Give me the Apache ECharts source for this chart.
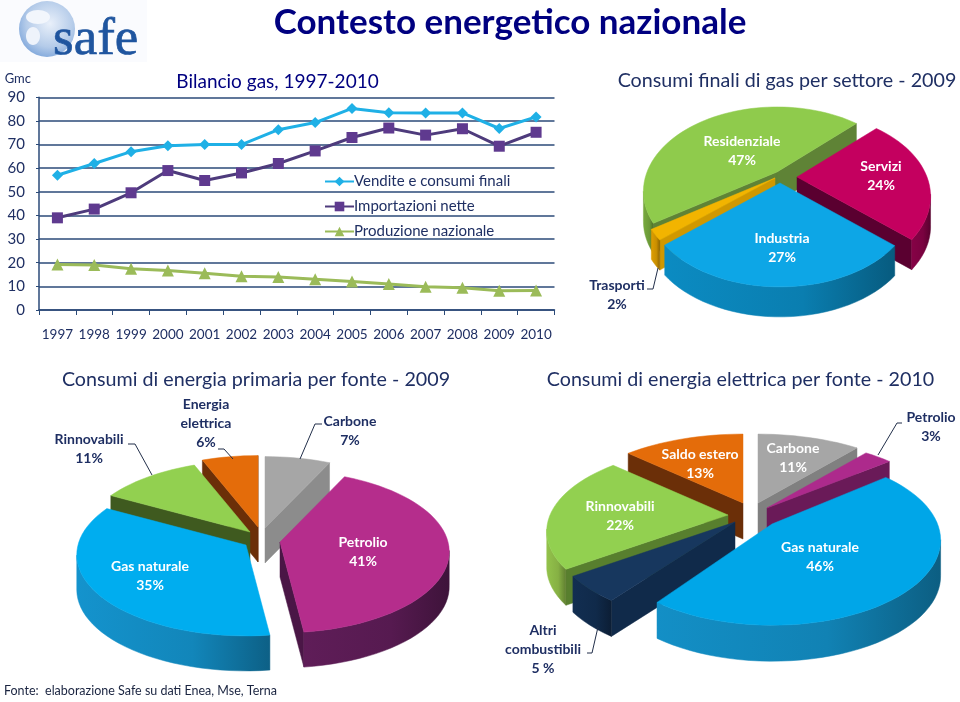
<!DOCTYPE html>
<html><head><meta charset="utf-8">
<style>html,body{margin:0;padding:0;background:#fff}#c{width:960px;height:702px}</style>
<script src="https://cdn.jsdelivr.net/npm/echarts@6/dist/echarts.min.js"></script>
</head><body><div id="c"></div>
<script>
// ---------- data ----------
const years = ['1997','1998','1999','2000','2001','2002','2003','2004','2005','2006','2007','2008','2009','2010'];
const vendite = [57,62,67,69.5,70,70,76.3,79.3,85.3,83.5,83.4,83.4,76.8,81.7];
const importazioni = [39,42.7,49.6,59,54.8,58,62,67.3,73,77,74,76.7,69.3,75.2];
const produzione = [19.3,19,17.5,16.7,15.6,14.3,14,13,12.1,11,9.8,9.4,8.1,8.3];

const settoreNames = ['Residenziale','Servizi','Industria','Trasporti'];
const settoreValues = [47,24,27,2];
const primariaNames = ['Carbone','Petrolio','Gas naturale','Rinnovabili','Energia\nelettrica'];
const primariaValues = [7,41,35,11,6];
const elettricaNames = ['Carbone','Petrolio','Gas naturale','Altri\ncombustibili','Rinnovabili','Saldo estero'];
const elettricaValues = [11,3,46,5,22,13];

// ---------- style / layout ----------
const FONT = 'Lato, "Open Sans", sans-serif';
const NAVY = '#1f2f63', TITLE = '#000080';
const pies = [
 { names:settoreNames, values:settoreValues, start:-124, p:.23, rx:130, ry:80, depth:30,
   tips:[[777,172],[797,177],[780,183],[775,178]], xScale:[1,1,1,1],
   top:['#8fcb4c','#c4005f','#0da6e6','#f2b400'], wall:['#6c9a38','#7a0240','#0a7eb0','#c98f00'], cut:['#5f8336','#5a0030','#0a6f9e','#d09800'],
   labels:[[742,151],[881,176],[782,248],[617,295]], inside:[1,1,1,0], suffix:['%','%','%','%'],
   leaders:[[[647,289],[653,289],[658,268]]] },
 { names:primariaNames, values:primariaValues, start:0, p:.12, rx:168, ry:80, depth:35,
   tips:[[265,528],[280,542],[246,545],[250,532],[258,527]], xScale:[1,1,1,1,1],
   top:['#a6a6a6','#b52d8c','#00adef','#92d050','#e46c0a'], wall:['#8c8c8c','#561a50','#1286ba','#3f5a1f','#6b2f08'], cut:['#8c8c8c','#4a1646','#0e6f9c','#3f5a1f','#6b2f08'],
   labels:[[350,431],[363,552],[150,576],[89,449],[206,423]], inside:[0,1,1,0,0], suffix:['%','%','%','%','%'],
   leaders:[[[322,424],[315,424],[300,459]],[[128,444],[135,444],[152,475]],[[218,449],[224,449],[233,459]]] },
 { names:elettricaNames, values:elettricaValues, start:0, p:.19, rx:178, ry:82, depth:36,
   tips:[[758,503],[767,508],[772,524],[735,522],[728,515],[743,503]], xScale:[1,1,.93,1,1,1],
   top:['#a6a6a6','#ad2a8c','#00a6e8','#17375e','#92d050','#e46c0a'], wall:['#808080','#6a1a58','#1182b4','#102a4a','#86b044','#6b2f08'], cut:['#808080','#6a1a58','#0c668f','#102a4a','#587f2e','#6b2f08'],
   labels:[[793,458],[931,427],[820,557],[543,649],[620,516],[700,464]], inside:[1,0,1,0,1,1], suffix:['%','%','%',' %','%','%'],
   leaders:[[[902,423],[897,423],[878,455]],[[587,653],[592,653],[598,627]]] }
];

// ---------- tilted, extruded pie drawn from the values ----------
function shade(hex, k){
  const n = parseInt(hex.slice(1),16);
  const f = v => Math.max(0,Math.min(255,Math.round(v*k)));
  return 'rgb('+f(n>>16)+','+f((n>>8)&255)+','+f(n&255)+')';
}
function project(cfg, t, sx){
  const a = t*Math.PI/180, X = Math.sin(a), Y = -Math.cos(a), s = 1/(1-cfg.p*Y);
  return [cfg.rx*sx*X*s, cfg.ry*Y*s];
}
function sliceOutline(cfg, i){
  const total = cfg.values.reduce((a,b)=>a+b,0);
  let t0 = cfg.start;
  for(let k=0;k<i;k++) t0 += cfg.values[k]/total*360;
  const t1 = t0 + cfg.values[i]/total*360;
  const tip = cfg.tips[i], arc = [];
  const steps = Math.max(4,Math.ceil((t1-t0)/3));
  for(let k=0;k<=steps;k++){
    const q = project(cfg, t0+(t1-t0)*k/steps, cfg.xScale[i]);
    arc.push([tip[0]+q[0], tip[1]+q[1]]);
  }
  return {tip, arc};
}
function renderSlice(cfg){
  const sy = cfg.values.map((_,i)=>{const o=sliceOutline(cfg,i);
     const m=o.arc[Math.floor(o.arc.length/2)];return (m[1]+o.tip[1])/2;});
  const rank = sy.map(y=>sy.filter(v=>v<y).length);
  return function(params, api){
    const i = params.dataIndex, value = api.value(0);
    const o = sliceOutline(cfg,i), pts=[o.tip,...o.arc], kids=[], z=rank[i]*2+2, d=cfg.depth;
    const poly = (list, fill, zz) => kids.push({type:'polygon',z2:zz,silent:true,shape:{points:list},style:{fill,stroke:fill,lineWidth:.5}});
    const wallQuad = (a,b) => [a,b,[b[0],b[1]+d],[a[0],a[1]+d]];
    // cut faces
    if(o.arc[0][0]-o.tip[0] < 0) poly(wallQuad(o.tip,o.arc[0]), cfg.cut[i], z);
    const last=o.arc[o.arc.length-1];
    if(o.tip[0]-last[0] < 0) poly(wallQuad(last,o.tip), cfg.cut[i], z);
    // outer wall: contiguous visible arc edges, as one shape with a horizontal gradient
    let run=[];
    const flush=()=>{
      if(run.length>1){
        const xs=run.map(p=>p[0]), x0=Math.min(...xs), x1=Math.max(...xs);
        const shape=[...run,...run.slice().reverse().map(p=>[p[0],p[1]+d])];
        poly(shape,{type:'linear',x:x0,y:0,x2:x1,y2:0,global:true,colorStops:[
          {offset:0,color:shade(cfg.wall[i],1.1)},{offset:.6,color:cfg.wall[i]},{offset:1,color:shade(cfg.wall[i],.72)}]},z);
      }
      run=[];
    };
    for(let e=0;e<o.arc.length-1;e++){
      const a=o.arc[e], b=o.arc[e+1];
      if(b[0]-a[0] < 0){ if(!run.length) run.push(a); run.push(b); } else flush();
    }
    flush();
    poly(pts, cfg.top[i], z+1);
    const lab = cfg.labels[i];
    kids.push({type:'text',z2:100,silent:true,style:{
      text:cfg.names[i]+'\n'+value+cfg.suffix[i], x:lab[0], y:lab[1], textAlign:'center', textVerticalAlign:'middle',
      fill:cfg.inside[i]?'#fff':NAVY, font:'bold 14px '+FONT, lineHeight:19}});
    return {type:'group',children:kids};
  };
}

const pieSeries = pies.map(cfg=>({
  type:'custom', coordinateSystem:'none', animation:false, silent:true,
  renderItem:renderSlice(cfg),
  data:cfg.names.map((n,i)=>({name:n.replace('\n',' '),value:[cfg.values[i]]}))
}));

const leaderGraphics = pies.flatMap(cfg=>cfg.leaders.map(l=>({
  type:'polyline',silent:true,z:50,shape:{points:l},style:{stroke:'#222f4a',lineWidth:1,fill:null}})));

const titleStyle = {fontFamily:FONT,fontWeight:'normal',fontSize:19.7,color:NAVY};
const chart = echarts.init(document.getElementById('c'),null,{renderer:'canvas'});
chart.setOption({
  backgroundColor:'#fff', animation:false,
  title:[
    {text:'Contesto energetico nazionale',left:505,top:0,textAlign:'center',textStyle:{fontFamily:FONT,fontWeight:'bold',fontSize:35,color:TITLE}},
    {text:'Bilancio gas, 1997-2010',left:272.5,top:67,textAlign:'center',textStyle:{...titleStyle,fontSize:19,color:TITLE}},
    {text:'Consumi finali di gas per settore - 2009',left:782,top:66,textAlign:'center',textStyle:titleStyle},
    {text:'Consumi di energia primaria per fonte - 2009',left:251,top:365,textAlign:'center',textStyle:titleStyle},
    {text:'Consumi di energia elettrica per fonte - 2010',left:735.5,top:365,textAlign:'center',textStyle:titleStyle},
    {text:'Fonte:  elaborazione Safe su dati Enea, Mse, Terna',left:4,top:684,padding:0,textStyle:{fontFamily:FONT,fontWeight:'normal',fontSize:12.5,color:'#1a2440'}}
  ],
  grid:{left:39,right:405.5,top:97.3,height:212.7,containLabel:false},
  legend:{orient:'vertical',left:319,top:169,itemWidth:29,itemHeight:12,itemGap:10,
    selectedMode:false,textStyle:{fontFamily:FONT,fontSize:15,color:NAVY,padding:[0,0,0,-5]},
    data:['Vendite e consumi finali','Importazioni nette','Produzione nazionale']},
  xAxis:{type:'category',data:years,boundaryGap:true,
    axisLine:{lineStyle:{color:'#2b4a78',width:1.5}},
    axisTick:{show:true,alignWithLabel:false,length:5,lineStyle:{color:'#2b4a78'}},
    axisLabel:{interval:0,margin:18,fontFamily:FONT,fontSize:13.5,color:NAVY}},
  yAxis:{type:'value',min:0,max:90,interval:10,name:'Gmc',nameLocation:'end',nameGap:12,
    nameTextStyle:{fontFamily:FONT,fontSize:13,color:NAVY,align:'right',padding:[0,8,0,0]},
    axisLine:{show:true,lineStyle:{color:'#2b4a78',width:1.5}},
    axisTick:{show:true,length:3,lineStyle:{color:'#2b4a78'}},
    axisLabel:{margin:14,fontFamily:FONT,fontSize:15,color:NAVY},
    splitLine:{show:true,lineStyle:{color:'#2b4a78',width:1.5}}},
  series:[
    {name:'Vendite e consumi finali',type:'line',data:vendite,symbol:'diamond',symbolSize:11,z:5,
      lineStyle:{color:'#1fb0e6',width:3},itemStyle:{color:'#1fb0e6'}},
    {name:'Importazioni nette',type:'line',data:importazioni,symbol:'rect',symbolSize:11,z:4,
      lineStyle:{color:'#4e3b7c',width:3},itemStyle:{color:'#5f3a8f'}},
    {name:'Produzione nazionale',type:'line',data:produzione,symbol:'triangle',symbolSize:12,z:3,
      lineStyle:{color:'#9bbb59',width:3},itemStyle:{color:'#9bbb59'}},
    ...pieSeries
  ],
  graphic:[
    {type:'rect',silent:true,z:0,shape:{x:0,y:0,width:147,height:62},style:{fill:'#fafbfe'}},
    {type:'circle',silent:true,z:1,shape:{cx:47,cy:29,r:28},style:{fill:new echarts.graphic.RadialGradient(.55,.4,.65,[{offset:0,color:'#e9f0fa'},{offset:.65,color:'#b4cbe9'},{offset:1,color:'#7ba4da'}])}},
    {type:'ellipse',silent:true,z:1,shape:{cx:38,cy:17,rx:12,ry:7},style:{fill:'#f2f6fc'}},
    {type:'ellipse',silent:true,z:1,shape:{cx:33,cy:36,rx:7,ry:9},style:{fill:'#eef3fb'}},
    {type:'text',silent:true,z:2,style:{text:'safe',x:53,y:14,font:'53px "Liberation Serif", serif',fill:'#1f559f',stroke:'#1f559f',lineWidth:.7}},
    ...leaderGraphics
  ]
});
</script></body></html>
